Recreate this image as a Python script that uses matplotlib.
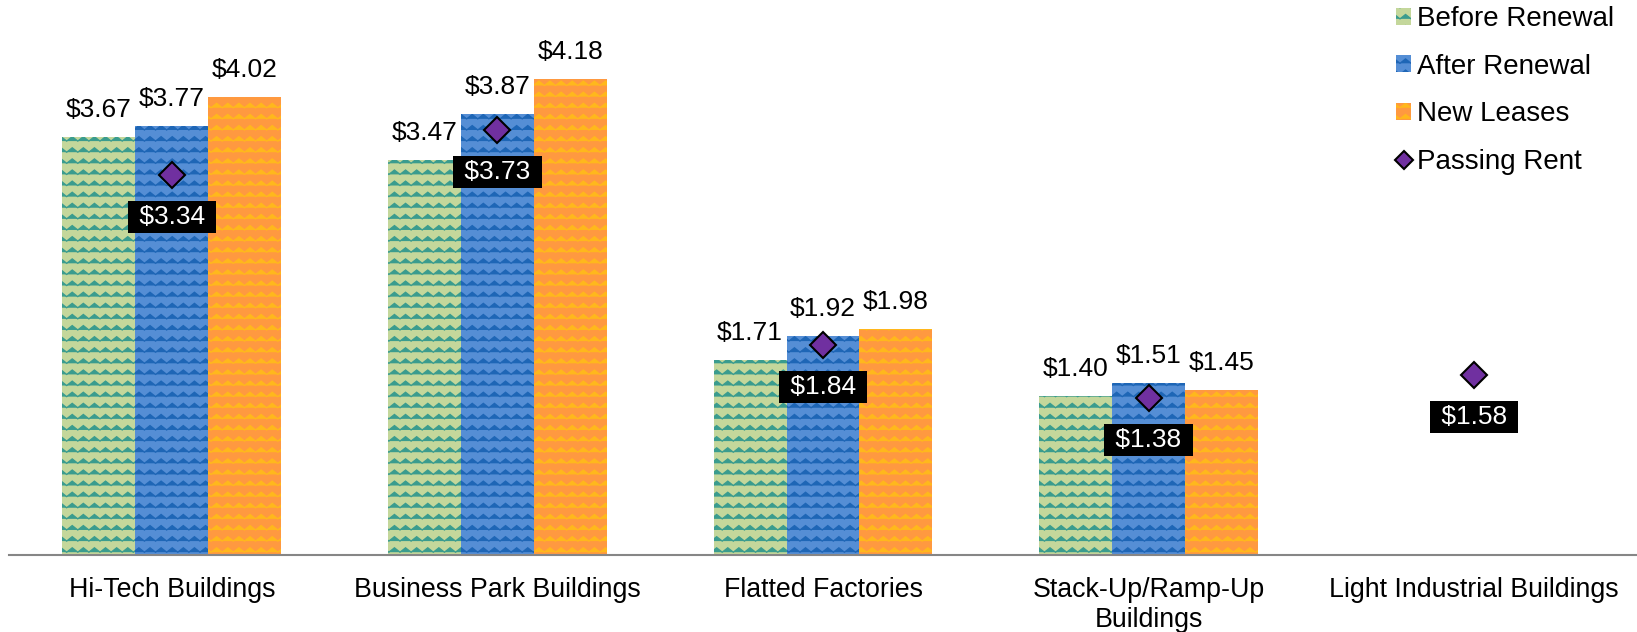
import numpy as np
import matplotlib
matplotlib.use('Agg')
import matplotlib.pyplot as plt
import matplotlib.hatch as mhatch
from matplotlib.path import Path
from matplotlib.patches import Patch
from matplotlib.lines import Line2D

plt.rcParams['font.family'] = ['Liberation Sans', 'DejaVu Sans']
plt.rcParams['hatch.linewidth'] = 0.95

# data
categories = ['Hi-Tech Buildings', 'Business Park Buildings', 'Flatted Factories',
              'Stack-Up/Ramp-Up\nBuildings', 'Light Industrial Buildings']
before_renewal = [3.67, 3.47, 1.71, 1.40, None]
after_renewal = [3.77, 3.87, 1.92, 1.51, None]
new_leases = [4.02, 4.18, 1.98, 1.45, None]
passing_rent = [3.34, 3.73, 1.84, 1.38, 1.58]


# zigzag hatch (replaces the plain '-' hatch)
class ZigzagHatch(mhatch.HatchPatternBase):
    rows, teeth, amp = 9, 9, 0.022

    def __init__(self, hatch, density):
        self.num_lines = self.rows if '-' in hatch else 0
        self.num_vertices = self.num_lines * (2 * self.teeth + 1)

    def set_vertices_and_codes(self, vertices, codes):
        per = 2 * self.teeth + 1
        xs = np.linspace(0, 1, per)
        off = np.where(np.arange(per) % 2 == 0, -self.amp, self.amp)
        for i in range(self.num_lines):
            sl = slice(i * per, (i + 1) * per)
            vertices[sl, 0] = xs
            vertices[sl, 1] = (i + 0.5) / self.rows + off
            codes[sl] = Path.LINETO
            codes[i * per] = Path.MOVETO


mhatch._hatch_types = [ZigzagHatch]

W, H = 1637, 632
fig = plt.figure(figsize=(W / 100, H / 100), dpi=100)
ax = fig.add_axes([9 / W, 77 / H, (W - 9) / W, (H - 77) / H])

series = [
    ('Before Renewal', before_renewal, '#C4D79B', '#3A9C8E', -1),
    ('After Renewal', after_renewal, '#558ED5', '#1E66B6', 0),
    ('New Leases', new_leases, '#FF9940', '#FFB81C', 1),
]
bw = 0.224
handles = []
for name, vals, fc, hc, k in series:
    idx = [i for i, v in enumerate(vals) if v is not None]
    xs = np.array(idx) + k * bw
    hs = [vals[i] for i in idx]
    ax.bar(xs, hs, bw, color=fc, edgecolor=hc, linewidth=0, hatch='-', zorder=2)
    for x, h in zip(xs, hs):
        ax.annotate(f'${h:.2f}', (x, h), xytext=(0, 27), textcoords='offset pixels',
                    ha='center', va='center', fontsize=19, zorder=5)
    handles.append(Patch(facecolor=fc, edgecolor=hc, linewidth=0, hatch='-', label=name))

xp = np.arange(len(passing_rent))
ax.plot(xp, passing_rent, linestyle='none', marker='D', markersize=13.5,
        markerfacecolor='#7030A0', markeredgecolor='black', markeredgewidth=1.5, zorder=4)
for x, v in zip(xp, passing_rent):
    ax.annotate(f' ${v:.2f} ', (x, v), xytext=(0, -42), textcoords='offset pixels',
                ha='center', va='center', fontsize=19, color='white', zorder=6,
                bbox=dict(boxstyle='square,pad=0.15', fc='black', ec='none'))
handles.append(Line2D([], [], linestyle='none', marker='D', markersize=9,
                      markerfacecolor='#7030A0', markeredgecolor='black',
                      markeredgewidth=1.5, label='Passing Rent'))

ax.set_xlim(-0.5, 4.5)
ax.set_ylim(0, 555 / 113.9)
ax.set_xticks(xp)
ax.set_xticklabels(categories, fontsize=19.3)
ax.tick_params(axis='x', length=0, pad=16)
ax.set_yticks([])
for s in ['top', 'right', 'left']:
    ax.spines[s].set_visible(False)
ax.spines['bottom'].set_color('#868686')
ax.spines['bottom'].set_linewidth(1.5)
ax.patch.set_alpha(0)

fig.legend(handles=handles, loc='upper left', bbox_to_anchor=(1396 / W, 1 - 6 / H),
           frameon=False, fontsize=20, borderpad=0, borderaxespad=0,
           handlelength=0.55, handleheight=0.55, handletextpad=0.2, labelspacing=0.78)

fig.savefig('out.png', dpi=100)
